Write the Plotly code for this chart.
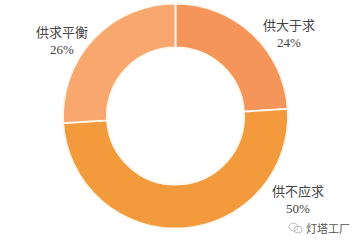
import plotly.graph_objects as go

categories = ["供大于求", "供不应求", "供求平衡"]
values = [24, 50, 26]
colors = ["#F5955A", "#F39A3C", "#F8A86E"]

W, H = 359, 242
cx, cy, r = 175.5, 116, 112.5

fig = go.Figure(go.Pie(
    labels=categories,
    values=values,
    hole=0.61,
    sort=False,
    direction="clockwise",
    rotation=0,
    textinfo="none",
    hoverinfo="label+percent",
    marker=dict(colors=colors, line=dict(color="#FFF8F0", width=1.8)),
    domain=dict(x=[(cx - r) / W, (cx + r) / W], y=[(H - cy - r) / H, (H - cy + r) / H]),
    showlegend=False,
))

# label positions (pixels) for each category
label_pos = [(289, 34), (298, 200), (62, 41)]
font_family = "Liberation Serif, Noto Sans CJK SC, serif"
for cat, val, (lx, ly) in zip(categories, values, label_pos):
    fig.add_annotation(
        x=lx / W, y=1 - ly / H, xref="paper", yref="paper",
        text=f"{cat}<br>{val}%", showarrow=False,
        font=dict(family=font_family, size=13, color="#444444"),
        align="center", xanchor="center", yanchor="middle",
    )

# watermark
fig.add_annotation(
    x=328 / W, y=1 - 228 / H, xref="paper", yref="paper",
    text="灯塔工厂", showarrow=False,
    font=dict(family="Noto Sans CJK SC", size=11, color="#555555"),
    xanchor="center", yanchor="middle",
)
fig.add_shape(type="circle", xref="paper", yref="paper",
              x0=289 / W, x1=298 / W, y0=1 - 231 / H, y1=1 - 223 / H,
              line=dict(color="#BBBBBB", width=1))
fig.add_shape(type="circle", xref="paper", yref="paper",
              x0=294 / W, x1=302 / W, y0=1 - 233 / H, y1=1 - 226 / H,
              line=dict(color="#BBBBBB", width=1))

fig.update_layout(
    width=W, height=H,
    margin=dict(l=0, r=0, t=0, b=0),
    paper_bgcolor="white",
    plot_bgcolor="white",
)

fig.write_html("out.html")
